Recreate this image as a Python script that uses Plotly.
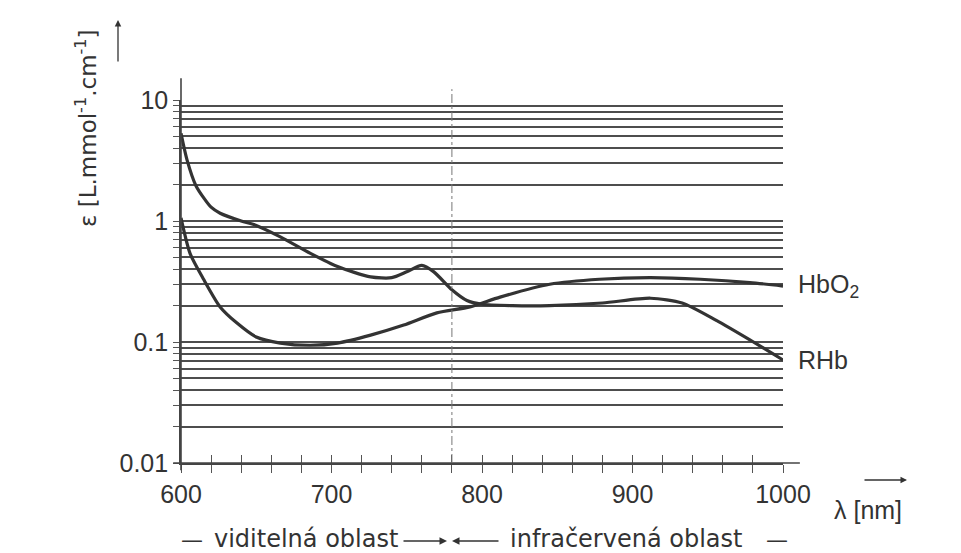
import math
import plotly.graph_objects as go

# Data
wl_rhb = [600, 604, 610, 620, 626, 640, 650, 666, 686, 704, 726, 740, 750, 760, 768, 780, 790, 800, 820, 845, 880, 912, 933, 956, 978, 1000]
eps_rhb = [5.3, 3.2, 1.95, 1.3, 1.16, 1.0, 0.92, 0.74, 0.54, 0.42, 0.345, 0.34, 0.38, 0.43, 0.38, 0.27, 0.22, 0.205, 0.2, 0.2, 0.21, 0.23, 0.21, 0.15, 0.104, 0.071]

wl_hbo2 = [600, 606, 615, 626, 637, 650, 666, 686, 704, 726, 748, 770, 792, 812, 845, 878, 912, 945, 978, 1000]
eps_hbo2 = [1.06, 0.54, 0.33, 0.195, 0.144, 0.11, 0.098, 0.094, 0.098, 0.114, 0.138, 0.174, 0.195, 0.235, 0.30, 0.33, 0.34, 0.33, 0.31, 0.29]

x_tickvals = list(range(600, 1001, 20))
x_ticklabels = ["600", "700", "800", "900", "1000"]
decades = [0.01, 0.1, 1, 10]
decade_labels = ["0.01", "0.1", "1", "10"]
boundary_nm = 780

FONT = "Liberation Sans, Arial, sans-serif"
WIDE = "DejaVu Sans, sans-serif"
INK = "#333333"

y_tickvals = []
y_ticktext = []
for d, lab in zip(decades, decade_labels):
    if d == 10:
        y_tickvals.append(10)
        y_ticktext.append(lab)
        continue
    for m in range(1, 10):
        y_tickvals.append(round(d * m, 6))
        y_ticktext.append(lab if m == 1 else "")

x_ticktext = [str(v) if str(v) in x_ticklabels else "" for v in x_tickvals]

fig = go.Figure()
fig.add_trace(go.Scatter(x=wl_rhb, y=eps_rhb, mode="lines", name="RHb",
                         line=dict(color=INK, width=3.2, shape="spline", smoothing=0.7)))
fig.add_trace(go.Scatter(x=wl_hbo2, y=eps_hbo2, mode="lines", name="HbO2",
                         line=dict(color=INK, width=3.2, shape="spline", smoothing=0.7)))
# invisible trace for the overlay axis (inner half of crossing ticks)
fig.add_trace(go.Scatter(x=[600, 1000], y=[1, 1], xaxis="x2", mode="lines",
                         line=dict(width=0), hoverinfo="skip", showlegend=False))

fig.update_layout(
    width=961, height=553,
    margin=dict(l=173, r=186, t=92, b=98),
    paper_bgcolor="white", plot_bgcolor="white",
    showlegend=False,
    font=dict(family=FONT, color=INK, size=24),
    xaxis=dict(range=[600, 1000], tickvals=x_tickvals, ticktext=x_ticktext,
               ticks="outside", ticklen=8, tickwidth=1.4, tickcolor="#555",
               showgrid=False, zeroline=False, showline=True, linecolor="#444", linewidth=1.6,
               tickfont=dict(size=25, family=FONT, color=INK)),
    xaxis2=dict(range=[600, 1000], overlaying="x", anchor="y", side="bottom",
                tickvals=x_tickvals, ticks="inside", ticklen=8, tickwidth=1.4, tickcolor="#555",
                showticklabels=False, showgrid=False, zeroline=False, showline=False),
    yaxis=dict(type="log", range=[-2, 1], tickvals=y_tickvals, ticktext=y_ticktext,
               ticks="outside", ticklen=6, tickwidth=1.3, tickcolor="#555",
               showgrid=True, gridcolor="#4d4d4d", gridwidth=1.6,
               zeroline=False, showline=True, linecolor="#444", linewidth=1.6,
               tickfont=dict(size=25, family=FONT, color=INK)),
)

# axis line extensions and boundary line
fig.add_shape(type="line", xref="paper", yref="paper", x0=0, x1=0, y0=-0.02, y1=1.06,
              line=dict(color="#444", width=1.6))
fig.add_shape(type="line", xref="paper", yref="paper", x0=-0.013, x1=1.028, y0=0, y1=0,
              line=dict(color="#444", width=1.6))
fig.add_shape(type="line", xref="x", yref="paper", x0=boundary_nm, x1=boundary_nm, y0=0, y1=1.03,
              line=dict(color="#777", width=1, dash="dashdot"))

# curve labels
fig.add_annotation(x=wl_hbo2[-1], y=math.log10(eps_hbo2[-1]), text="HbO<sub>2</sub>",
                   showarrow=False, xanchor="left", yanchor="middle", xshift=13, font=dict(size=25))
fig.add_annotation(x=wl_rhb[-1], y=math.log10(eps_rhb[-1]), text="RHb",
                   showarrow=False, xanchor="left", yanchor="middle", xshift=13, font=dict(size=25))


def ptext(x, y, text, size, family=FONT, angle=0):
    fig.add_annotation(xref="paper", yref="paper", x=x, y=y, text=text, textangle=angle,
                       xanchor="center", yanchor="middle", showarrow=False,
                       font=dict(size=size, family=family))


def parrow(x, y, ax, ay, width=1.3):
    fig.add_annotation(xref="paper", yref="paper", x=x, y=y, ax=ax, ay=ay, text="",
                       showarrow=True, arrowhead=2, arrowsize=1, arrowwidth=width,
                       arrowcolor=INK)


def px_x(p):
    return (p - 181) / 602


def px_y(p):
    return (463 - p) / 363


# axis titles
ptext(px_x(86), px_y(128), "ε [L.mmol<sup>-1</sup>.cm<sup>-1</sup>]", 23, WIDE, -90)
parrow(px_x(118), px_y(20), 0, 43)
ptext(px_x(868), px_y(510), "λ [nm]", 25)
parrow(px_x(907), px_y(480), -44, 0)

# region caption under the axis
ycap = 539
ptext(px_x(192), px_y(ycap), "—", 22, WIDE)
ptext(px_x(306), px_y(ycap), "viditelná oblast", 24, WIDE)
parrow(px_x(447), px_y(ycap + 2), -45, 0, 1.5)
parrow(px_x(452), px_y(ycap + 2), 48, 0, 1.5)
ptext(px_x(626), px_y(ycap), "infračervená oblast", 24, WIDE)
ptext(px_x(777), px_y(ycap), "—", 22, WIDE)

fig.write_html("out.html")
